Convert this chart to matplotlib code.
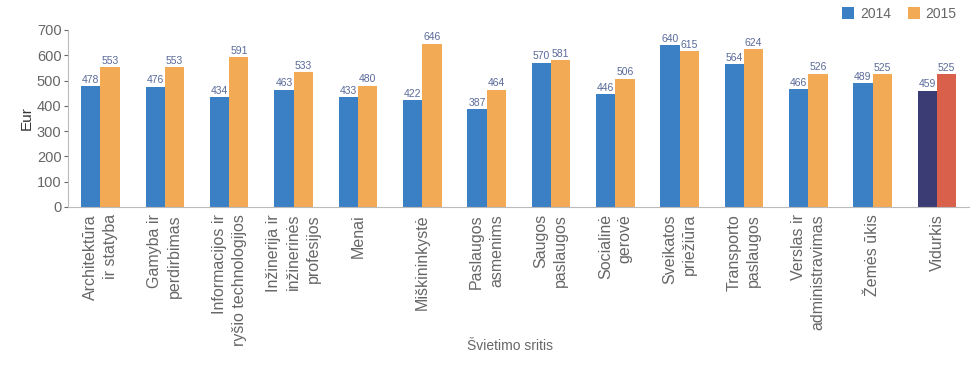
import matplotlib
matplotlib.use('Agg')
import matplotlib.pyplot as plt
import numpy as np

plt.rcParams['font.family'] = ['Liberation Sans', 'DejaVu Sans']

# data
categories = ['Architektūra\nir statyba', 'Gamyba ir\nperdirbimas',
              'Informacijos ir\nryšio technologijos', 'Inžinerija ir\ninžinerinės\nprofesijos',
              'Menai', 'Miškininkystė', 'Paslaugos\nasmenims', 'Saugos\npaslaugos',
              'Socialinė\ngerovė', 'Sveikatos\npriežiūra', 'Transporto\npaslaugos',
              'Verslas ir\nadministravimas', 'Žemės ūkis', 'Vidurkis']
vals_2014 = [478, 476, 434, 463, 433, 422, 387, 570, 446, 640, 564, 466, 489, 459]
vals_2015 = [553, 553, 591, 533, 480, 646, 464, 581, 506, 615, 624, 526, 525, 525]
years = ['2014', '2015']

blue = '#3b7fc4'
orange = '#f2aa55'
navy = '#3b3c74'
red = '#d9604a'
grey = '#666666'

fig = plt.figure(figsize=(9.76, 3.65), dpi=100)
ax = fig.add_axes([0.07, 0.433, 0.923, 0.485])

x = np.arange(len(categories))
w = 0.3
c14 = [blue] * (len(x) - 1) + [navy]
c15 = [orange] * (len(x) - 1) + [red]
b1 = ax.bar(x - w / 2, vals_2014, w, color=c14, label=years[0])
b2 = ax.bar(x + w / 2, vals_2015, w, color=c15, label=years[1])

for bars, vals in [(b1, vals_2014), (b2, vals_2015)]:
    for r, v in zip(bars, vals):
        ax.text(r.get_x() + r.get_width() / 2, v + 6, str(v), ha='center', va='bottom',
                fontsize=7.5, color='#5a6a9a')

ax.set_xlim(-0.5, len(x) - 0.5)
ax.set_ylim(0, 700)
ax.set_yticks(range(0, 701, 100))
ax.tick_params(axis='y', labelsize=10.5, colors=grey, length=3, pad=2)
ax.set_xticks(x)
ax.set_xticklabels(categories, rotation=90, fontsize=11.5, color=grey,
                   multialignment='right', va='top', ha='center', linespacing=1.4)
ax.tick_params(axis='x', length=0, pad=5)
for s in ['top', 'right']:
    ax.spines[s].set_visible(False)
ax.spines['left'].set_color('#bbbbbb')
ax.spines['bottom'].set_color('#bbbbbb')

ax.set_ylabel('Eur', fontsize=11, color='#333333', labelpad=2)
fig.text(0.523, 0.04, 'Švietimo sritis', ha='center', fontsize=10, color=grey)

leg = ax.legend(handles=[b1[0], b2[0]], labels=years, loc='upper right',
                bbox_to_anchor=(1.0, 1.2), ncol=2, frameon=False, fontsize=10,
                handlelength=0.9, handleheight=0.9, columnspacing=1.2, handletextpad=0.4)
for t in leg.get_texts():
    t.set_color(grey)

fig.savefig('out.png', dpi=100)
